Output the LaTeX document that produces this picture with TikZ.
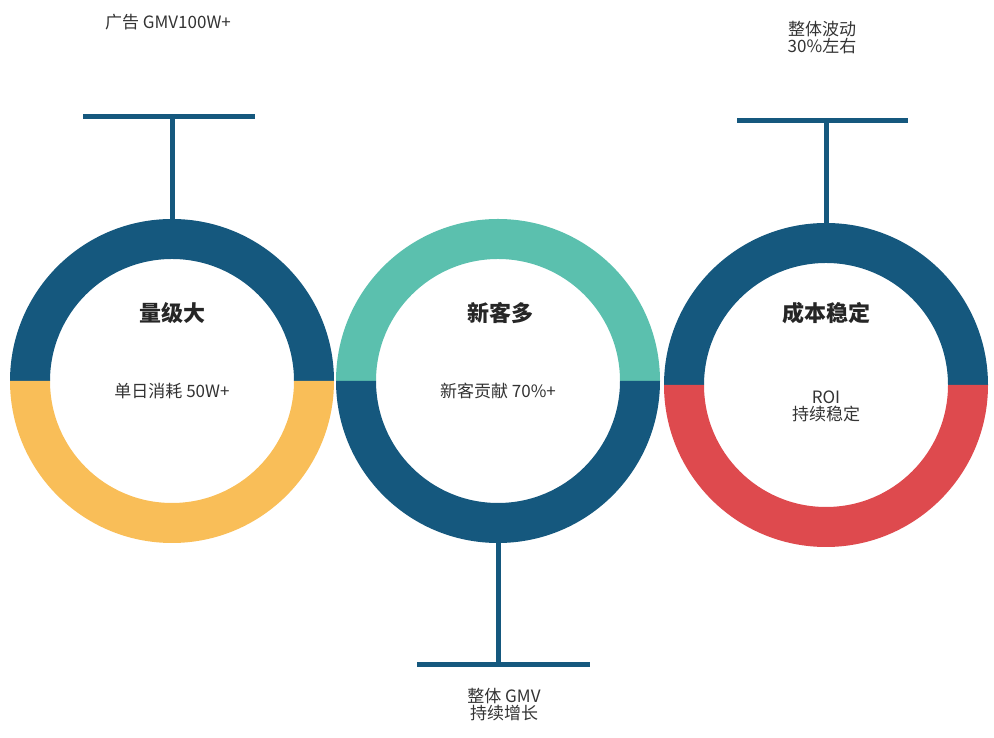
\documentclass[tikz,border=0pt]{standalone}
\usepackage{fontspec}
\setmainfont{Noto Sans CJK SC}
\newfontfamily\boldcjk{Noto Sans CJK SC Bold}
\definecolor{dblue}{HTML}{15587E}
\definecolor{yel}{HTML}{F9BE58}
\definecolor{teal2}{HTML}{5BC0AE}
\definecolor{red2}{HTML}{DE4A4E}
\begin{document}
\begin{tikzpicture}[x=1pt,y=1pt,
  ttl/.style={font=\fontsize{22}{24}\selectfont\bfseries, text=black!85},
  body/.style={font=\fontsize{17}{20}\selectfont, text=black!80, align=center},
  bar/.style={draw=dblue, line width=5pt}]
\useasboundingbox (0,0) rectangle (994,738);
\newcommand{\halfring}[4]{% center x,y ; start angle ; color
  \fill[#4] (#1,#2) ++(#3:162) arc[start angle=#3,end angle=#3+180,radius=162]
     -- ++(#3+180:-40) arc[start angle=#3+180,end angle=#3,radius=122] -- cycle;}
% circle 1
\halfring{172}{357}{0}{dblue}
\halfring{172}{357}{180}{yel}
\coordinate (c1top) at (172,519);
\coordinate (b1l) at (83,621); \coordinate (b1r) at (255,621);
\coordinate (b1m) at (172,621);
\draw[bar] (c1top) -- (b1m); \draw[bar] (b1l) -- (b1r);
\node[ttl] (t1) at (172,425) {量级大};
\node[body] (d1) at (172,347) {单日消耗 50W+};
\node[body] (l1) at (168,716) {广告 GMV100W+};
% circle 2
\halfring{498}{357}{0}{teal2}
\halfring{498}{357}{180}{dblue}
\coordinate (c2bot) at (498,195);
\coordinate (b2l) at (417,73); \coordinate (b2r) at (590,73);
\coordinate (b2m) at (498,73);
\draw[bar] (c2bot) -- (b2m); \draw[bar] (b2l) -- (b2r);
\node[ttl] (t2) at (500,425) {新客多};
\node[body] (d2) at (498,347) {新客贡献 70\%+};
\node[body] (l2) at (504,33) {整体 GMV\\[-3pt]持续增长};
% circle 3
\halfring{826}{353}{0}{dblue}
\halfring{826}{353}{180}{red2}
\coordinate (c3top) at (826,515);
\coordinate (b3l) at (737,617); \coordinate (b3r) at (908,617);
\coordinate (b3m) at (826,617);
\draw[bar] (c3top) -- (b3m); \draw[bar] (b3l) -- (b3r);
\node[ttl] (t3) at (826,425) {成本稳定};
\node[body] (d3) at (826,332) {ROI\\[-3pt]持续稳定};
\node[body] (l3) at (822,700) {整体波动\\[-3pt]30\%左右};
\end{tikzpicture}
\end{document}
